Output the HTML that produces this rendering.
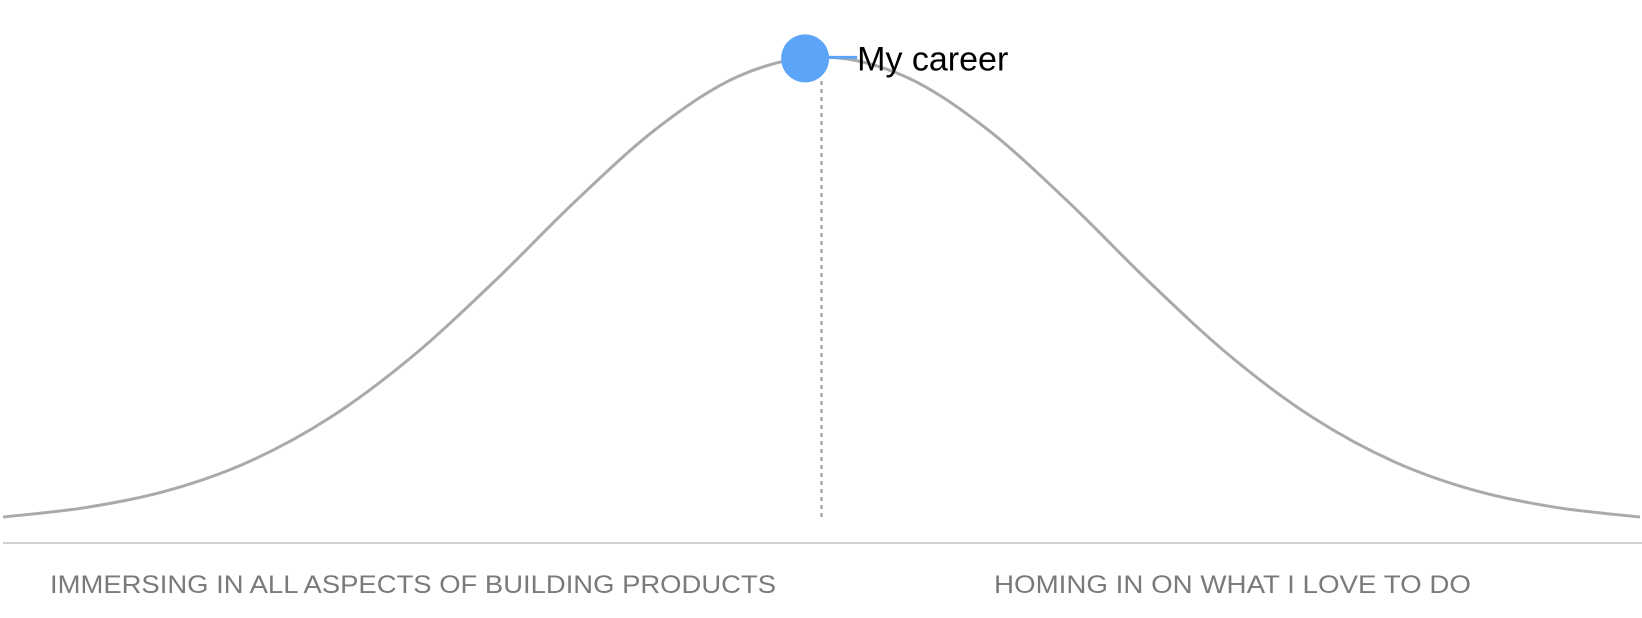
<!DOCTYPE html>
<html><head><meta charset="utf-8"><style>
html,body{margin:0;padding:0;background:#fff;width:1642px;height:618px;overflow:hidden}
svg{display:block;font-family:"Liberation Sans",sans-serif}
</style></head><body>
<svg id="chart" width="1642" height="618" viewBox="0 0 1642 618">
<line x1="3" y1="543" x2="1642" y2="543" stroke="#cfcfcf" stroke-width="2"/>
<g id="marks"></g>
<text x="50" y="593" font-size="25" fill="#7a7a7a" textLength="726" lengthAdjust="spacingAndGlyphs">IMMERSING IN ALL ASPECTS OF BUILDING PRODUCTS</text>
<text x="994" y="593" font-size="25" fill="#7a7a7a" textLength="477" lengthAdjust="spacingAndGlyphs">HOMING IN ON WHAT I LOVE TO DO</text>
</svg>
<script>
const xs = [0,5,10,15,20,25,30,35,40,45,50,55,60,65,70,75,80,85,90,95,100];
const vals = [1.7,3.7,7.3,13.5,23.0,36.0,52.0,69.3,84.9,96.0,100,96.0,84.9,69.3,52.0,36.0,23.0,13.5,7.3,3.7,1.7];
const careerX = 49;
const careerVal = 99.7;
const peakX = 50;
const careerLabel = "My career";

const sx = v => 3 + v * (1637/100);
const sy = v => 525 - v * 4.68;
const NS = "http://www.w3.org/2000/svg";
const g = document.getElementById('marks');

const pts = xs.map((x,i)=>[sx(x), sy(vals[i])]);
let d = `M${pts[0][0]},${pts[0][1]}`;
for (let i=0;i<pts.length-1;i++){
  const p0=pts[Math.max(0,i-1)], p1=pts[i], p2=pts[i+1], p3=pts[Math.min(pts.length-1,i+2)];
  const c1=[p1[0]+(p2[0]-p0[0])/6, p1[1]+(p2[1]-p0[1])/6];
  const c2=[p2[0]-(p3[0]-p1[0])/6, p2[1]-(p3[1]-p1[1])/6];
  d += ` C${c1[0]},${c1[1]} ${c2[0]},${c2[1]} ${p2[0]},${p2[1]}`;
}
const path = document.createElementNS(NS,'path');


path.setAttribute('d', d);
path.setAttribute('fill','none');
path.setAttribute('stroke','#aaaaaa');
path.setAttribute('stroke-width','3');
g.appendChild(path);

const dl = document.createElementNS(NS,'line');


dl.setAttribute('x1', sx(peakX)); dl.setAttribute('x2', sx(peakX));
dl.setAttribute('y1', sy(100)+24); dl.setAttribute('y2', 517);
dl.setAttribute('stroke','#999'); dl.setAttribute('stroke-width','2');
dl.setAttribute('stroke-dasharray','4 4');
g.appendChild(dl);

const cx = sx(careerX), cy = sy(careerVal);
const lead = document.createElementNS(NS,'line');


lead.setAttribute('x1', cx); lead.setAttribute('x2', cx+52);
lead.setAttribute('y1', cy-1); lead.setAttribute('y2', cy-1);
lead.setAttribute('stroke','#5ba4f8'); lead.setAttribute('stroke-width','3');
g.appendChild(lead);

const c = document.createElementNS(NS,'circle');


c.setAttribute('cx', cx); c.setAttribute('cy', cy); c.setAttribute('r', 24);
c.setAttribute('fill','#5ba4f8');
g.appendChild(c);

const t = document.createElementNS(NS,'text');


t.setAttribute('x', cx+52); t.setAttribute('y', cy+12);
t.setAttribute('font-size','34'); t.setAttribute('fill','#000');
t.textContent = careerLabel;
g.appendChild(t);
</script>
</body></html>
